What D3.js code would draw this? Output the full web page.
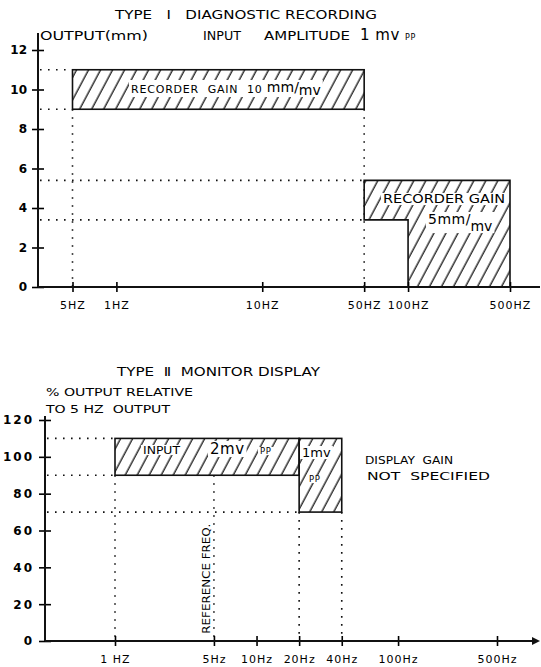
<!DOCTYPE html>
<html>
<head>
<meta charset="utf-8">
<script src="https://cdn.jsdelivr.net/npm/d3@7"></script>
<style>
  body { margin: 0; background: #fff; }
  text { font-family: "DejaVu Sans", sans-serif; fill: #000; white-space: pre; }
</style>
</head>
<body>
<svg id="chart" width="541" height="667"></svg>
<script>
// --- type I diagnostic recording ---
const recY = [0, 2, 4, 6, 8, 10, 12];
const recFreq = [0.5, 1, 10, 50, 100, 500];
const recFreqLabels = ["5HZ", "1HZ", "10HZ", "50HZ", "100HZ", "500HZ"];
const gain10Band = [0.5, 50, 9, 11];            // f from, f to, mm low, mm high
const gain5Outline = [[50, 5.4], [500, 5.4], [500, 0], [100, 0], [100, 3.4], [50, 3.4]];
const recGuidesH = [[11, 0.5], [9, 0.5], [5.4, 50], [3.4, 50]];   // level, runs to freq
const recGuidesV = [[0.5, 9], [50, 9]];                           // freq, from level down

// --- type II monitor display ---
const monY = [0, 20, 40, 60, 80, 100, 120];
const monFreq = [1, 5, 10, 20, 40, 100, 500];
const monFreqLabels = ["1 HZ", "5Hz", "10Hz", "20Hz", "40Hz", "100Hz", "500Hz"];
const input2mvBand = [1, 20, 90, 110];
const input1mvBand = [20, 40, 70, 110];
const monGuidesH = [[110, 1], [90, 1], [70, 20]];
const monGuidesV = [[1, 90], [5, 90], [20, 70], [40, 70]];

const svg = d3.select("#chart");

// hatch fill, steep "/" strokes
const defs = svg.append("defs");
defs.append("pattern")
    .attr("id", "hatch")
    .attr("patternUnits", "userSpaceOnUse")
    .attr("width", 10.6).attr("height", 10)
    .attr("patternTransform", "rotate(28)")
  .append("line")
    .attr("x1", 5).attr("y1", 0).attr("x2", 5).attr("y2", 10)
    .attr("stroke", "#111").attr("stroke-width", 1.3);

const dotted = sel => sel.attr("stroke", "#111").attr("stroke-width", 1.6)
    .attr("stroke-dasharray", "1.6,6.4").attr("fill", "none");

// plain label helper; len stretches the text to the width seen in the scan
function label(g, x, y, txt, size, spacing, len) {
    const t = g.append("text").attr("x", x).attr("y", y)
        .style("font-size", (size || 10) + "px")
        .style("letter-spacing", (spacing === undefined ? 1 : spacing) + "px")
        .text(txt);
    if (len) t.attr("textLength", len).attr("lengthAdjust", "spacingAndGlyphs");
    return t;
}
function span(t, txt, size, spacing, dy) {
    const s = t.append("tspan")
        .style("font-size", size + "px")
        .style("letter-spacing", (spacing || 0) + "px")
        .text(txt);
    if (dy) s.attr("dy", dy);
    return s;
}

// white patch behind labels sitting on the hatch
function knockout(g, texts) {
    texts.each(function() {
        const b = this.getBBox();
        g.insert("rect", "text")
            .attr("x", b.x - 2).attr("y", b.y + 1)
            .attr("width", b.width + 4).attr("height", b.height - 2)
            .attr("fill", "#fff");
    });
}

function yAxis(g, scale, vals, xPos, top, spacing) {
    const ax = g.append("g")
        .attr("transform", `translate(${xPos},0)`)
        .call(d3.axisLeft(scale).tickValues(vals).tickSizeInner(6).tickSizeOuter(0).tickPadding(5));
    ax.select(".domain").remove();
    ax.selectAll(".tick line").attr("x1", 6).attr("x2", -6).attr("stroke-width", 1.6);
    ax.selectAll(".tick text").attr("font-family", null).attr("font-size", null)
        .style("font-size", "12px").style("font-weight", "bold")
        .style("letter-spacing", spacing + "px");
    g.append("line")
        .attr("x1", xPos).attr("x2", xPos)
        .attr("y1", scale(0)).attr("y2", top)
        .attr("stroke", "#111").attr("stroke-width", 2);
    return ax;
}

function xAxis(g, scale, vals, labels, yPos, x0, x1) {
    const ax = g.append("g")
        .attr("transform", `translate(0,${yPos})`)
        .call(d3.axisBottom(scale).tickValues(vals)
            .tickFormat((d, i) => labels[i]).tickSizeInner(5).tickSizeOuter(0).tickPadding(9));
    ax.select(".domain").remove();
    ax.selectAll(".tick line").attr("y1", -5).attr("y2", 5).attr("stroke-width", 1.6);
    ax.selectAll(".tick text").attr("font-family", null).attr("font-size", null)
        .style("font-size", "11px").style("letter-spacing", "1px");
    g.append("line")
        .attr("x1", x0).attr("x2", x1)
        .attr("y1", yPos).attr("y2", yPos)
        .attr("stroke", "#111").attr("stroke-width", 2);
    return ax;
}

//
// chart 1
//
const xRec = d3.scaleLog().domain([0.5, 500]).range([72.5, 510]);
const yRec = d3.scaleLinear().domain([0, 12]).range([287, 50]);
const g1 = svg.append("g");

g1.selectAll(".gh").data(recGuidesH).enter().append("line")
    .attr("x1", 40).attr("x2", d => xRec(d[1]))
    .attr("y1", d => yRec(d[0])).attr("y2", d => yRec(d[0]))
    .call(dotted);
g1.selectAll(".gv").data(recGuidesV).enter().append("line")
    .attr("x1", d => xRec(d[0])).attr("x2", d => xRec(d[0]))
    .attr("y1", d => yRec(d[1])).attr("y2", yRec(0))
    .call(dotted);

g1.append("rect")
    .attr("x", xRec(gain10Band[0])).attr("y", yRec(gain10Band[3]))
    .attr("width", xRec(gain10Band[1]) - xRec(gain10Band[0]))
    .attr("height", yRec(gain10Band[2]) - yRec(gain10Band[3]))
    .attr("fill", "url(#hatch)").attr("stroke", "#111").attr("stroke-width", 1.6);

g1.append("path")
    .attr("d", d3.line().x(d => xRec(d[0])).y(d => yRec(d[1]))(gain5Outline) + "Z")
    .attr("fill", "url(#hatch)").attr("stroke", "#111").attr("stroke-width", 1.6);

yAxis(g1, yRec, recY, 38, 33, 0);
xAxis(g1, xRec, recFreq, recFreqLabels, yRec(0), 38, 540);

label(g1, 115, 19, "TYPE   I   DIAGNOSTIC RECORDING", 12, 0, 262);
label(g1, 40, 40, "OUTPUT(mm)", 13, 0, 108);
label(g1, 203, 40, "INPUT", 12, 0, 38);
label(g1, 264, 40, "AMPLITUDE", 12, 0, 86);
const amp = label(g1, 360, 40, "", 10, 0);
span(amp, "1 mv ", 15, 0.5);
span(amp, "PP", 8, 0.5);

const lab10 = g1.append("g");
const t10 = label(lab10, 131, 93, "", 10, 1);
span(t10, "RECORDER  GAIN  10 ", 11, 0.8);
span(t10, "mm", 14, 0, -1);
span(t10, "/", 14, 0);
span(t10, "mv", 14, 0, 3);
knockout(lab10, lab10.selectAll("text"));

const lab5 = g1.append("g");
label(lab5, 383, 203, "RECORDER GAIN", 11.5, 0, 122);
const t5 = label(lab5, 428, 224, "", 10, 0);
span(t5, "5mm", 14, 0.5);
span(t5, "/", 14, 0);
span(t5, "mv", 14, 0, 7);
knockout(lab5, lab5.selectAll("text"));

//
// chart 2
//
const xMon = d3.scaleLog().domain([1, 500]).range([115, 497]);
const yMon = d3.scaleLinear().domain([0, 120]).range([641, 420]);
const g2 = svg.append("g");

g2.selectAll(".gh").data(monGuidesH).enter().append("line")
    .attr("x1", 47).attr("x2", d => xMon(d[1]))
    .attr("y1", d => yMon(d[0])).attr("y2", d => yMon(d[0]))
    .call(dotted);
g2.selectAll(".gv").data(monGuidesV).enter().append("line")
    .attr("x1", d => xMon(d[0])).attr("x2", d => xMon(d[0]))
    .attr("y1", d => yMon(d[1])).attr("y2", yMon(0))
    .call(dotted);

g2.selectAll(".band").data([input2mvBand, input1mvBand]).enter().append("rect")
    .attr("x", d => xMon(d[0])).attr("y", d => yMon(d[3]))
    .attr("width", d => xMon(d[1]) - xMon(d[0]))
    .attr("height", d => yMon(d[2]) - yMon(d[3]))
    .attr("fill", "url(#hatch)").attr("stroke", "#111").attr("stroke-width", 1.6);

yAxis(g2, yMon, monY, 45, 416, 2);
xAxis(g2, xMon, monFreq, monFreqLabels, yMon(0), 45, 532);
g2.append("path")
    .attr("d", `M532,${yMon(0) - 4}L540,${yMon(0)}L532,${yMon(0) + 4}Z`)
    .attr("fill", "#111");

label(g2, 117, 376, "TYPE  \u2161  MONITOR DISPLAY", 11.5, 0, 203);
label(g2, 46, 396, "% OUTPUT RELATIVE", 11, 0, 147);
label(g2, 46, 413, "TO 5 HZ  OUTPUT", 11, 0, 124);

const labIn = g2.append("g");
label(labIn, 143, 454, "INPUT", 10.5, 0, 37);
const t2 = label(labIn, 210, 454, "", 10, 0);
span(t2, "2mv", 15, 0.5);
label(labIn, 260, 454, "PP", 8.5, 0.5);
const t1 = label(labIn, 302, 457, "", 10, 0);
span(t1, "1mv", 13, 0);
label(labIn, 309, 482, "PP", 8.5, 0.5);
knockout(labIn, labIn.selectAll("text"));

label(g2, 365, 464, "DISPLAY  GAIN", 11, 0, 88);
label(g2, 367, 480, "NOT  SPECIFIED", 11, 0, 123);

label(g2, 0, 0, "REFERENCE FREQ.", 10.5, 0, 110)
    .attr("transform", `translate(210,${yMon(4)}) rotate(-90)`);
</script>
</body>
</html>
